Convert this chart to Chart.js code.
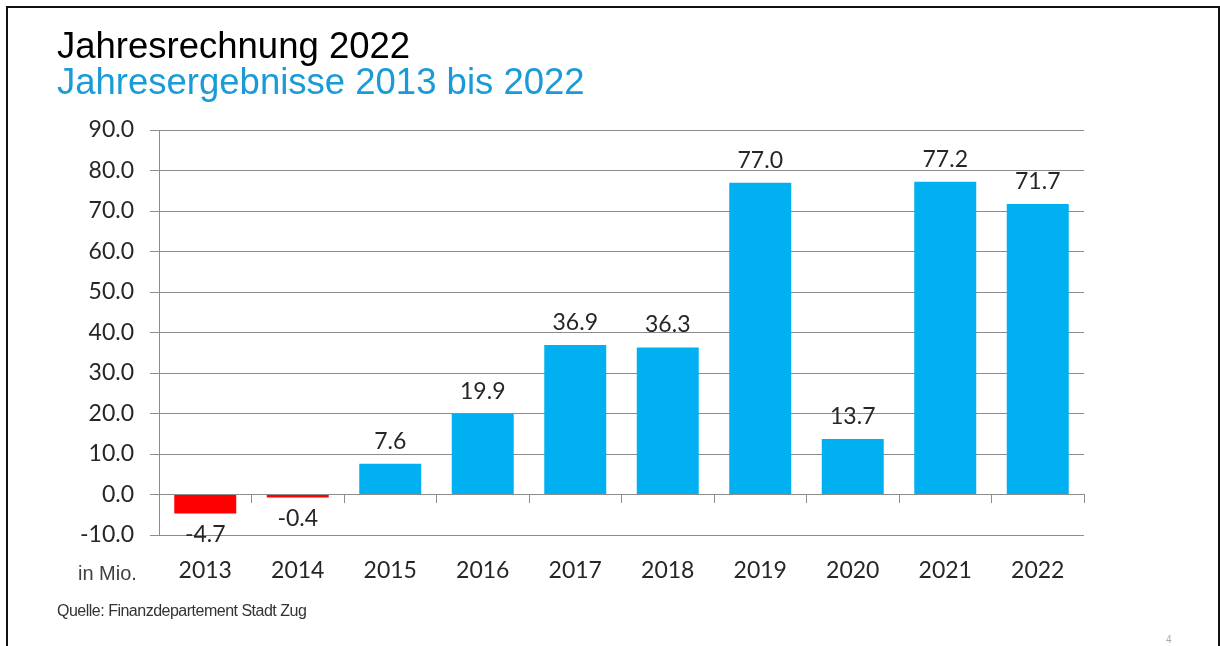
<!DOCTYPE html>
<html>
<head>
<meta charset="utf-8">
<script src="https://cdn.jsdelivr.net/npm/chart.js@4.4.1/dist/chart.umd.min.js"></script>
<style>
  html, body { margin: 0; padding: 0; background: #fff; overflow: hidden; }
  #slide { position: relative; width: 1220px; height: 646px; overflow: hidden; }
  #frame { position: absolute; left: 6px; top: 6px; width: 1210px; height: 700px;
           border: 2px solid #111; border-bottom: none; }
  .txt { position: absolute; white-space: nowrap; font-family: "Liberation Sans", Arial, sans-serif; }
  #title { left: 57px; top: 28px; font-size: 36.5px; line-height: 36.5px; color: #000; }
  #subtitle { left: 57px; top: 64px; font-size: 36.5px; line-height: 36.5px; color: #1a9bd7; }
  #unit { left: 78px; top: 563px; font-size: 20px; line-height: 20px; color: #404040; }
  #source { left: 57px; top: 603px; font-size: 16px; line-height: 16px; letter-spacing: -0.5px; color: #333; }
  #page { left: 1166px; top: 635px; font-size: 10px; line-height: 10px; color: #aaa; }
  #chartBox { position: absolute; left: 0; top: 0; width: 1220px; height: 646px; }
</style>
</head>
<body>
<div id="slide">
  <div id="frame"></div>
  <div id="chartBox"><canvas id="chart"></canvas></div>
  <div class="txt" id="title">Jahresrechnung 2022</div>
  <div class="txt" id="subtitle">Jahresergebnisse 2013 bis 2022</div>
  <div class="txt" id="unit">in Mio.</div>
  <div class="txt" id="source">Quelle: Finanzdepartement Stadt Zug</div>
  <div class="txt" id="page">4</div>
</div>
<script>
const years = ['2013', '2014', '2015', '2016', '2017', '2018', '2019', '2020', '2021', '2022'];
const results = [-4.7, -0.4, 7.6, 19.9, 36.9, 36.3, 77.0, 13.7, 77.2, 71.7];
const yMin = -10;
const yMax = 90;
const yStep = 10;

const BLUE = '#00b0f0';
const RED = '#ff0000';
const GRID = '#8c8c8c';
const TEXT = '#262626';

// value labels above positive bars, below negative ones
const valueLabels = {
  id: 'valueLabels',
  afterDatasetsDraw(chart) {
    const ctx = chart.ctx;
    const meta = chart.getDatasetMeta(0);
    ctx.save();
    ctx.font = '23px Lato';
    ctx.fillStyle = TEXT;
    ctx.textAlign = 'center';
    ctx.textBaseline = 'alphabetic';
    meta.data.forEach((bar, i) => {
      const v = results[i];
      const y = v < 0 ? bar.y + 28 : bar.y - 15;
      ctx.fillText(v.toFixed(1), bar.x, y);
    });
    ctx.restore();
  }
};

function draw() {
  new Chart(document.getElementById('chart'), {
    type: 'bar',
    data: {
      labels: years,
      datasets: [{
        data: results,
        xAxisID: 'x',
        yAxisID: 'y',
        backgroundColor: ctx => ctx.raw < 0 ? RED : BLUE,
        borderWidth: 0,
        minBarLength: 3,
        barPercentage: 0.67,
        categoryPercentage: 1
      }]
    },
    options: {
      responsive: true,
      maintainAspectRatio: false,
      animation: false,
      layout: { padding: { left: 59, right: 136, top: 130, bottom: 0 } },
      plugins: {
        legend: { display: false },
        tooltip: { enabled: false }
      },
      scales: {
        x: {
          position: 'bottom',
          grid: { display: false, drawTicks: false },
          border: { display: false },
          ticks: { font: { family: 'Lato', size: 23 }, color: TEXT, padding: 22, maxRotation: 0, autoSkip: false },
          afterFit: s => { s.height = 111; }
        },
        // tick marks between the years on the zero line
        x0: {
          type: 'category',
          position: { y: 0 },
          grid: { offset: true, drawOnChartArea: false, tickLength: 8, color: GRID },
          border: { display: true, color: GRID },
          ticks: { display: false }
        },
        y: {
          min: yMin,
          max: yMax,
          ticks: {
            stepSize: yStep,
            callback: v => v.toFixed(1),
            font: { family: 'Lato', size: 23 },
            color: TEXT,
            padding: 16
          },
          grid: { color: GRID, tickLength: 9 },
          border: { display: true, color: GRID },
          afterFit: s => { s.width = 100; }
        }
      }
    },
    plugins: [valueLabels]
  });
}

document.fonts.load('23px Lato').then(draw, draw);
</script>
</body>
</html>
